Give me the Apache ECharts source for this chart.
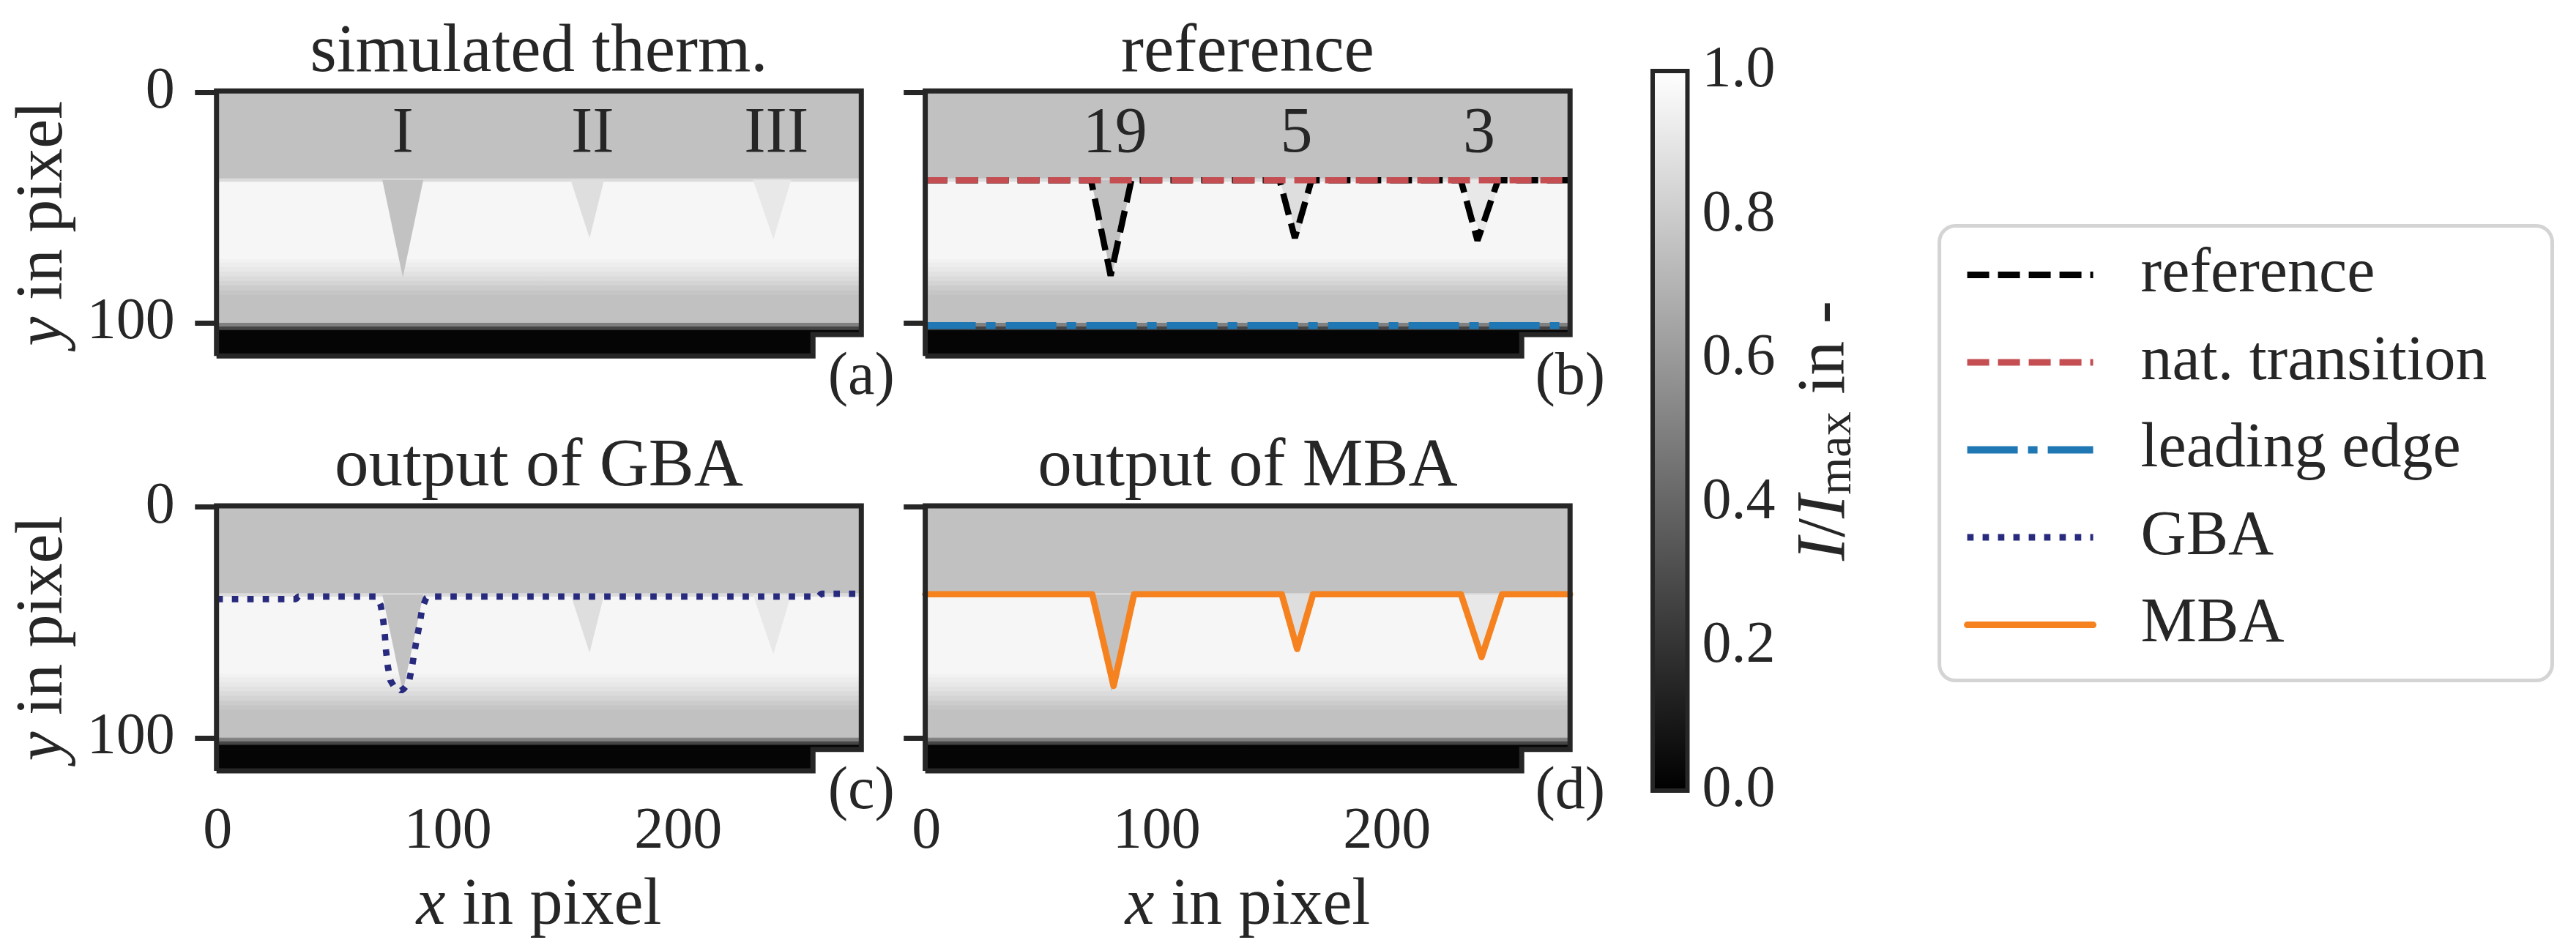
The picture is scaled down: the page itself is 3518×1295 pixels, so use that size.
<!DOCTYPE html>
<html><head><meta charset="utf-8">
<script src="https://cdn.jsdelivr.net/npm/echarts@6/dist/echarts.min.js"></script>
<style>html,body{margin:0;padding:0;background:#fff}#c{width:3518px;height:1295px}</style>
</head><body><div id="c"></div>
<script>
// ---------------- data ----------------
// thermogram (same image in all four panels): horizontal intensity bands
const rowEdges  = [-0.5, 37.5, 39, 72.5, 74, 76, 78, 80, 82, 84, 86, 88, 100.1, 101.7, 103.2, 105];
const rowValues = [0.755, 0.86, 0.965, 0.95, 0.93, 0.91, 0.885, 0.86, 0.83, 0.80, 0.775, 0.755, 0.50, 0.27, 0.02];
// dark strip below the thermogram
const stripValue = 0.02;
// image extents (pixel units)
const imgX0 = -0.5, imgX1 = 279.5, imgY0 = -0.5, imgY1 = 105, stripX1 = 258.5, stripY1 = 114.3;
// defects (wedges)
const defectTopY   = 38;
const defectLeft   = [71.5, 153.3, 232.5];
const defectRight  = [89.3, 167.8, 249.0];
const defectTipX   = [80.4, 161.5, 241.3];
const defectTipY   = [80.2, 63.2, 63.8];
const defectValue  = [0.76, 0.87, 0.91];
// annotations
const labelsA  = ['I', 'II', 'III'];
const labelsAX = [80.4, 162.8, 242.6];
const labelsB  = ['19', '5', '3'];
const labelsBX = [81.9, 160.7, 240.0];
const labelY   = 18.4;
// lines
const referenceLine = [[-0.5,38.2],[71.5,38.2],[80.0,79.5],[89.0,38.2],[153.4,38.2],[160.0,63.2],[167.2,38.2],[232.1,38.2],[239.3,64.3],[248.2,38.2],[279.5,38.2]];
const natTransition = [[-0.5,38.2],[279.5,38.2]];
const leadingEdge   = [[-0.5,101.1],[279.5,101.1]];
const gbaLine = [[-0.5,39.9],[34,39.9],[35,38.8],[69,38.8],[70.8,42.6],[71.9,49.2],[72.6,55.5],[73.1,62.1],[73.8,68.6],[75.0,75.1],[76.5,77.6],[78.5,78.6],[79.6,79.6],[81.0,78.6],[83.0,76.1],[84.3,69.7],[85.4,63.1],[86.5,56.8],[87.8,50.2],[88.8,43.9],[90.5,39.5],[91.8,38.8],[261,38.8],[262,37.6],[279.5,37.6]];
const mbaLine = [[-0.5,37.8],[72.0,37.8],[81.3,77.5],[90.2,37.8],[154.3,37.8],[161.0,61.5],[167.9,37.8],[232.1,37.8],[241.1,65.0],[250.0,37.8],[279.5,37.8]];
// ticks / texts
const xTicks = [0, 100, 200];
const yTicks = [0, 100];
const cbarMin = 0, cbarMax = 1, cbarStep = 0.2;
const panelTitles  = ['simulated therm.', 'reference', 'output of GBA', 'output of MBA'];
const panelLetters = ['(a)', '(b)', '(c)', '(d)'];
const legendNames  = ['reference', 'nat. transition', 'leading edge', 'GBA', 'MBA'];

// ---------------- style / layout ----------------
const FONT = 'Liberation Serif';
const INK = '#262626';
const PX = 3.145, PY = 3.153;
const GW = (imgX1 - imgX0) * PX, GH = (stripY1 - imgY0) * PY;
const grids = [
  {left: 295.7,  top: 124.3},
  {left: 1263.6, top: 124.3},
  {left: 295.7,  top: 691},
  {left: 1263.6, top: 691}
];
const gray = v => { const c = Math.round(v * 255); return 'rgb(' + c + ',' + c + ',' + c + ')'; };

const chart = echarts.init(document.getElementById('c'), null, {renderer: 'canvas'});

const gridOpt = grids.map(g => ({left: g.left, top: g.top, width: GW, height: GH, containLabel: false}));
gridOpt.push({left: 2257, top: 97, width: 47.5, height: 983});

const xAxes = [], yAxes = [], series = [];
grids.forEach((g, i) => {
  const bottomRow = i >= 2, leftCol = i % 2 === 0;
  xAxes.push({
    type: 'value', gridIndex: i, min: imgX0, max: imgX1,
    axisLine: {show: false}, splitLine: {show: false},
    axisTick: {show: true, length: 31, customValues: xTicks, lineStyle: {color: INK, width: 7}},
    axisLabel: {show: bottomRow, customValues: xTicks, margin: 44, fontSize: 80, fontFamily: FONT, color: INK},
    name: bottomRow ? '{i|x} in pixel' : '', nameLocation: 'middle', nameGap: 140,
    nameTextStyle: {fontSize: 90, fontFamily: FONT, color: INK, rich: {i: {fontStyle: 'italic', fontSize: 90, fontFamily: FONT, color: INK}}}
  });
  yAxes.push({
    type: 'value', gridIndex: i, min: imgY0, max: stripY1, inverse: true,
    axisLine: {show: false}, splitLine: {show: false},
    axisTick: {show: true, length: 31, customValues: yTicks, lineStyle: {color: INK, width: 7}},
    axisLabel: {show: leftCol, customValues: yTicks, margin: 57, fontSize: 80, fontFamily: FONT, color: INK},
    name: leftCol ? '{i|y} in pixel' : '', nameLocation: 'middle', nameGap: 190, nameRotate: 90,
    nameTextStyle: {fontSize: 90, fontFamily: FONT, color: INK, rich: {i: {fontStyle: 'italic', fontSize: 90, fontFamily: FONT, color: INK}}}
  });

  // image bands
  series.push({
    type: 'custom', xAxisIndex: i, yAxisIndex: i, z: 1, silent: true,
    data: rowValues.map((v, k) => [rowEdges[k], rowEdges[k + 1], v]),
    encode: {x: [], y: []},
    renderItem: (p, api) => {
      const a = api.coord([imgX0, api.value(0)]), b = api.coord([imgX1, api.value(1)]);
      const col = gray(api.value(2));
      return {type: 'rect', shape: {x: a[0], y: a[1], width: b[0] - a[0], height: b[1] - a[1]}, style: {fill: col, stroke: col, lineWidth: 1}};
    }
  });
  // dark strip
  series.push({
    type: 'custom', xAxisIndex: i, yAxisIndex: i, z: 1, silent: true,
    data: [[imgY1, stripY1, stripValue]], encode: {x: [], y: []},
    renderItem: (p, api) => {
      const a = api.coord([imgX0, api.value(0)]), b = api.coord([stripX1, api.value(1)]);
      return {type: 'rect', shape: {x: a[0], y: a[1], width: b[0] - a[0], height: b[1] - a[1]}, style: {fill: gray(api.value(2))}};
    }
  });
  // defects
  series.push({
    type: 'custom', xAxisIndex: i, yAxisIndex: i, z: 2, silent: true,
    data: defectLeft.map((l, k) => [l, defectRight[k], defectTipX[k], defectTipY[k], defectValue[k]]),
    encode: {x: [], y: []},
    renderItem: (p, api) => {
      const pts = [api.coord([api.value(0), defectTopY]), api.coord([api.value(1), defectTopY]), api.coord([api.value(2), api.value(3)])];
      return {type: 'polygon', shape: {points: pts}, style: {fill: gray(api.value(4))}};
    }
  });
  // frame (spines)
  series.push({
    type: 'custom', xAxisIndex: i, yAxisIndex: i, z: 8, silent: true,
    data: [[0]], encode: {x: [], y: []},
    renderItem: (p, api) => {
      const pts = [[imgX0, stripY1], [imgX0, imgY0], [imgX1, imgY0], [imgX1, imgY1], [stripX1, imgY1], [stripX1, stripY1], [imgX0, stripY1]].map(q => api.coord(q));
      return {type: 'polyline', shape: {points: pts}, style: {stroke: INK, lineWidth: 7, fill: null, lineJoin: 'miter'}};
    }
  });
});

// colour bar axes
xAxes.push({type: 'value', gridIndex: 4, min: 0, max: 1, show: false});
yAxes.push({
  type: 'value', gridIndex: 4, min: cbarMin, max: cbarMax, interval: cbarStep, position: 'right',
  axisLine: {show: false}, axisTick: {show: false}, splitLine: {show: false},
  axisLabel: {margin: 20, fontSize: 80, fontFamily: FONT, color: INK, formatter: v => v.toFixed(1)},
  name: '{i|I}/{i|I}{s|max} in -', nameLocation: 'middle', nameGap: 140, nameRotate: 90,
  nameTextStyle: {fontSize: 94, fontFamily: FONT, color: INK, rich: {
    i: {fontStyle: 'italic', fontSize: 96, fontFamily: FONT, color: INK},
    s: {fontSize: 66, fontFamily: FONT, color: INK, padding: [32, 0, 0, 0]}
  }}
});
series.push({
  type: 'custom', xAxisIndex: 4, yAxisIndex: 4, z: 1, silent: true,
  data: [[cbarMin, cbarMax]], encode: {x: [], y: []},
  renderItem: (p, api) => {
    const a = api.coord([0, api.value(1)]), b = api.coord([1, api.value(0)]);
    const shape = {x: a[0], y: a[1], width: b[0] - a[0], height: b[1] - a[1]};
    return {type: 'group', children: [
      {type: 'rect', shape, style: {fill: new echarts.graphic.LinearGradient(0, 0, 0, 1, [{offset: 0, color: gray(cbarMax)}, {offset: 1, color: gray(cbarMin)}])}},
      {type: 'rect', shape, style: {fill: null, stroke: INK, lineWidth: 6}}
    ]};
  }
});

// annotation texts
const annot = (gi, names, xs) => ({
  type: 'custom', xAxisIndex: gi, yAxisIndex: gi, z: 9, silent: true,
  data: names.map((n, k) => [xs[k], labelY, n]), encode: {x: [], y: []},
  renderItem: (p, api) => {
    const c = api.coord([api.value(0), api.value(1)]);
    return {type: 'text', x: c[0], y: c[1], style: {text: names[p.dataIndex], fontSize: 88, fontFamily: FONT, fill: INK, align: 'center', verticalAlign: 'middle'}};
  }
});
series.push(annot(0, labelsA, labelsAX));
series.push(annot(1, labelsB, labelsBX));

// lines
const lineSeries = (name, gi, data, color, type, width, z, extra) => Object.assign({
  name, type: 'line', xAxisIndex: gi, yAxisIndex: gi, data, z, symbol: 'none', showSymbol: false, animation: false,
  itemStyle: {color}, lineStyle: {color, width, type, cap: 'butt'}
}, extra || {});
series.push(lineSeries('reference', 1, referenceLine, '#000000', [30, 12], 8.5, 4));
series.push(lineSeries('nat. transition', 1, natTransition, '#c44e52', [30, 12], 8.5, 5));
series.push(lineSeries('leading edge', 1, leadingEdge, '#1f77b4', [69, 14, 13, 14], 9.5, 5));
series.push(lineSeries('GBA', 2, gbaLine, '#272a7d', [8.7, 12.3], 8.7, 5));
series.push(lineSeries('MBA', 3, mbaLine, '#f5821f', 'solid', 8.7, 5, {lineStyle: {color: '#f5821f', width: 8.7, join: 'round', cap: 'round'}}));

// titles and panel letters
const graphics = [];
grids.forEach((g, i) => {
  graphics.push({type: 'text', x: g.left + GW / 2, y: g.top - 52, silent: true,
    style: {text: panelTitles[i], fontSize: 93, fontFamily: FONT, fill: INK, align: 'center', verticalAlign: 'middle'}});
  graphics.push({type: 'text', x: g.left + GW, y: g.top + GH + 30, silent: true,
    style: {text: panelLetters[i], fontSize: 82, fontFamily: FONT, fill: INK, align: 'center', verticalAlign: 'middle'}});
});

const legendStyles = {
  'reference':       {color: '#000000', width: 9, type: [30, 12]},
  'nat. transition': {color: '#c44e52', width: 9, type: [30, 12]},
  'leading edge':    {color: '#1f77b4', width: 10, type: [69, 14, 13, 14]},
  'GBA':             {color: '#272a7d', width: 9, type: [8.7, 12.3]},
  'MBA':             {color: '#f5821f', width: 9, type: 'solid'}
};

chart.setOption({
  animation: false,
  backgroundColor: '#ffffff',
  grid: gridOpt,
  xAxis: xAxes,
  yAxis: yAxes,
  series,
  graphic: graphics,
  legend: {
    data: legendNames.map(n => ({name: n, lineStyle: legendStyles[n], itemStyle: {opacity: 0}})),
    orient: 'vertical', left: 2648.6, top: 308.6,
    padding: [24, 89, 33, 33], itemWidth: 172, itemHeight: 9, itemGap: 33.5,
    selectedMode: false, borderColor: '#d4d4d4', borderWidth: 5, borderRadius: 22, backgroundColor: '#ffffff',
    itemStyle: {opacity: 0},
    lineStyle: {width: 'inherit'},
    textStyle: {fontSize: 86, fontFamily: FONT, color: INK, padding: [0, 0, 0, 60]}
  }
});
</script></body></html>
